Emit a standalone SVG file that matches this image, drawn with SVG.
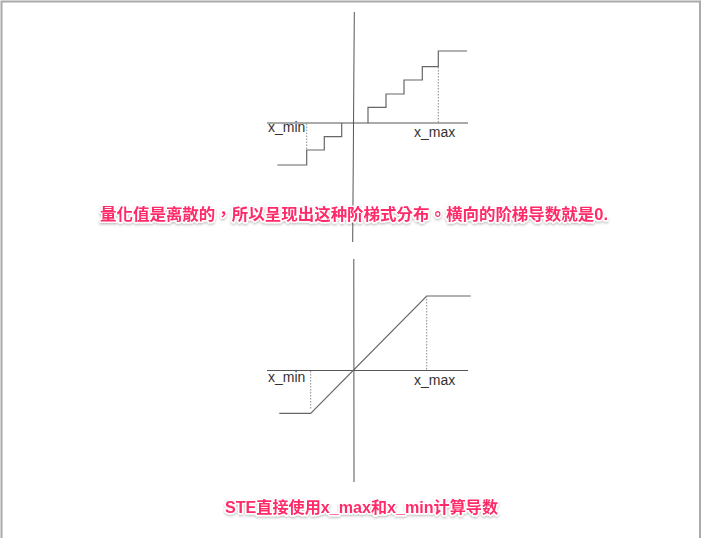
<svg xmlns="http://www.w3.org/2000/svg" width="702" height="538" viewBox="0 0 702 538">
<defs>
<style>
.ax{stroke:#555;stroke-width:1;fill:none}
.st{stroke:#666;stroke-width:1.2;fill:none}
.dt{stroke:#888;stroke-width:1;stroke-dasharray:1.5 1.5;fill:none}
.lb{font-family:"Liberation Sans",Arial,sans-serif;font-size:14px;fill:#333}
.note{font-family:"Liberation Sans","Noto Sans CJK SC",sans-serif;font-size:16px;font-weight:bold;fill:#ff2a68;stroke:#fff;stroke-width:3px;paint-order:stroke;stroke-linejoin:round}
.tc{font-family:"Liberation Sans","Noto Sans CJK TC",sans-serif}
</style>
<filter id="sh" x="-5%" y="-50%" width="110%" height="200%">
<feDropShadow dx="0" dy="1.5" stdDeviation="1.2" flood-color="#000" flood-opacity="0.25"/>
</filter>
</defs>
<rect x="0" y="0" width="702" height="538" fill="#fff"/>
<g id="frame" fill="none" stroke="#aaa" stroke-width="2">
<path d="M1.5,538 V1.5 H700 V538"/>
</g>
<g id="connectors">
<line class="ax" x1="354.3" y1="12" x2="352.7" y2="242"/>
<line class="ax" x1="267" y1="123" x2="468" y2="123"/>
<line class="ax" x1="353.8" y1="259" x2="354" y2="482"/>
<line class="ax" x1="267" y1="370.5" x2="468" y2="370.5"/>
</g>
<g id="staircase">
<path class="st" d="M368,123 V107.3 H386 V94 H404 V80 H422.3 V66.7 H438.3 V51 H467"/>
<line class="dt" x1="438.3" y1="67" x2="438.3" y2="123"/>
<path class="st" d="M341.7,123 V136.7 H324.3 V150 H306.7 V165 H277.3"/>
<line class="dt" x1="306.7" y1="123.5" x2="306.7" y2="150"/>
<text class="lb" x="268" y="132">x_min</text>
<text class="lb" x="414" y="137">x_max</text>
</g>
<g id="ste">
<path class="st" d="M279.3,413.3 H310.7 L426.7,296 H470.7"/>
<line class="dt" x1="426.7" y1="296" x2="426.7" y2="370.5"/>
<line class="dt" x1="310.7" y1="371" x2="310.7" y2="410"/>
<text class="lb" x="268" y="381.5">x_min</text>
<text class="lb" x="414" y="385">x_max</text>
</g>
<g id="note1" filter="url(#sh)">
<text class="note tc" x="100" y="220" textLength="508" lengthAdjust="spacingAndGlyphs">量化值是离散的，所以呈现出这种阶梯式分布。横向的阶梯导数就是0.</text>
</g>
<g id="note2" filter="url(#sh)">
<text class="note" x="225" y="512.5" textLength="273" lengthAdjust="spacingAndGlyphs">STE直接使用x_max和x_min计算导数</text>
</g>
</svg>
